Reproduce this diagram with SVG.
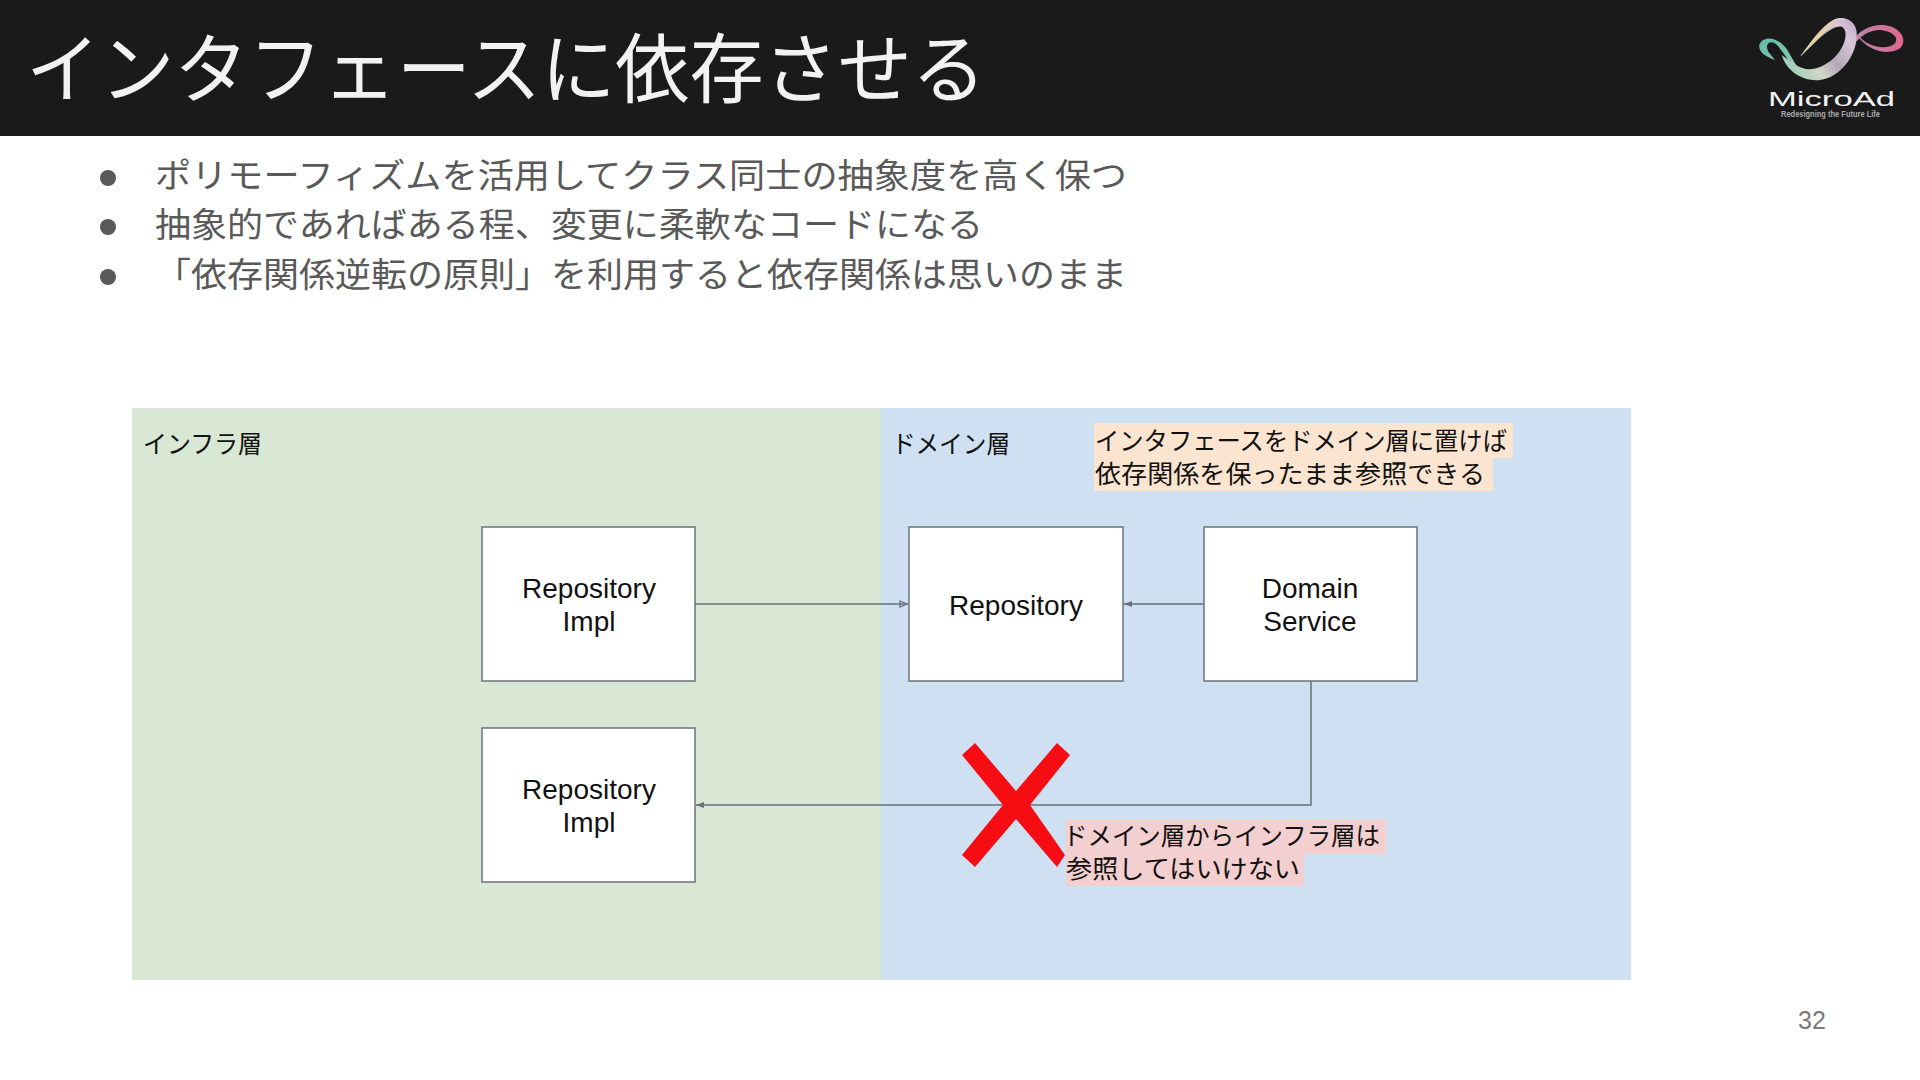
<svg xmlns="http://www.w3.org/2000/svg" width="1920" height="1080" viewBox="0 0 1920 1080">
<style>
.jp{font-family:"Noto Sans CJK JP","Liberation Sans",sans-serif}
.lat{font-family:"Liberation Sans",Arial,sans-serif}
.box{fill:#fff;stroke:#6b7478;stroke-width:1.5}
.bl{font-size:28px;text-anchor:middle;fill:#111}
.lb{font-size:25px;fill:#111}
.bul{font-size:34px;fill:#595959}
.con{fill:none;stroke:#66717a;stroke-width:1.5}
</style>
<defs>
<marker id="open" markerUnits="userSpaceOnUse" markerWidth="10" markerHeight="10" refX="9" refY="4" orient="auto"><path d="M1,1 L8,4 L1,7Z" fill="none" stroke="#66717a" stroke-width="1.2"/></marker>
<marker id="solid" markerUnits="userSpaceOnUse" markerWidth="10" markerHeight="10" refX="9" refY="4" orient="auto"><path d="M1,1 L9,4 L1,7Z" fill="#66717a"/></marker>
<linearGradient id="teal" x1="0" y1="0" x2="1" y2="1"><stop offset="0" stop-color="#5fbfa8"/><stop offset=".6" stop-color="#7fc4ad"/><stop offset="1" stop-color="#b9d3c0"/></linearGradient>
<linearGradient id="band" gradientUnits="userSpaceOnUse" x1="245" y1="230" x2="470" y2="60"><stop offset="0" stop-color="#8fc9b4"/><stop offset=".35" stop-color="#cfd6c6"/><stop offset=".55" stop-color="#b5a7bb"/><stop offset=".8" stop-color="#d8c6d8"/><stop offset="1" stop-color="#bfa8c8"/></linearGradient>
<linearGradient id="stripe" gradientUnits="userSpaceOnUse" x1="300" y1="170" x2="420" y2="55"><stop offset="0" stop-color="#c9d7a8"/><stop offset=".5" stop-color="#ecd39c"/><stop offset="1" stop-color="#d5c3d8"/></linearGradient>
<linearGradient id="pink" x1="0" y1="0" x2="1" y2="0"><stop offset="0" stop-color="#b58aa8"/><stop offset="1" stop-color="#e0658f"/></linearGradient>
</defs>
<rect width="1920" height="1080" fill="#fff"/>
<g id="header">
<rect width="1920" height="136" fill="#1a1a1a"/>
<text class="jp" x="26" y="97" font-size="76" fill="#f2f2f2" textLength="960" lengthAdjust="spacingAndGlyphs">インタフェースに依存させる</text>
</g>
<g id="logo">
<g transform="translate(1700,0) scale(0.3333)">
<path d="M455,125 C480,85 530,65 575,80 C610,95 620,125 600,145 C570,165 510,160 470,105 L480,112 C510,145 565,150 585,130 C600,110 570,90 535,90 C505,92 480,110 460,135Z" fill="url(#pink)"/>
<path d="M178,135 C190,105 235,110 262,150 L300,215 C270,200 250,150 225,130 C205,120 195,135 205,155 L225,180 C195,170 175,155 178,135Z" fill="url(#teal)"/>
<path d="M245,165 C260,215 310,245 360,240 C420,232 475,165 470,95 C465,60 430,45 400,60 C365,78 330,130 300,170 C340,135 390,75 425,80 C445,90 440,130 410,165 C385,195 340,215 310,205 C280,195 260,175 245,165Z" fill="url(#band)"/>
<path d="M300,170 C330,130 365,78 400,60 C412,54 425,52 436,56 C400,66 345,125 300,170Z" fill="url(#stripe)"/>
</g>
<text class="lat" x="1768" y="106" font-size="20" fill="#f2f2f2" textLength="127" lengthAdjust="spacingAndGlyphs">MicroAd</text>
<text class="lat" x="1781" y="117" font-size="8.5" font-weight="bold" fill="#aaa" textLength="99" lengthAdjust="spacingAndGlyphs">Redesigning the Future Life</text>
</g>
<g id="bullets">
<circle cx="108" cy="178" r="8" fill="#595959"/>
<circle cx="108" cy="227" r="8" fill="#595959"/>
<circle cx="108" cy="277" r="8" fill="#595959"/>
<text class="jp bul" x="155" y="188" textLength="972" lengthAdjust="spacingAndGlyphs">ポリモーフィズムを活用してクラス同士の抽象度を高く保つ</text>
<text class="jp bul" x="155" y="237" textLength="828" lengthAdjust="spacingAndGlyphs">抽象的であればある程、変更に柔軟なコードになる</text>
<text class="jp bul" x="155" y="287" textLength="972" lengthAdjust="spacingAndGlyphs">「依存関係逆転の原則」を利用すると依存関係は思いのまま</text>
</g>
<g id="layers">
<rect id="infra-layer" x="132" y="408" width="749" height="572" fill="#d9e8d4"/>
<rect id="domain-layer" x="881" y="408" width="750" height="572" fill="#cfe0f2"/>
<text class="jp lb" x="143" y="453" textLength="119" lengthAdjust="spacingAndGlyphs">インフラ層</text>
<text class="jp lb" x="892" y="453" textLength="118" lengthAdjust="spacingAndGlyphs">ドメイン層</text>
</g>
<g id="notes">
<rect x="1094" y="423" width="419" height="35" fill="#fbe5d0"/>
<rect x="1094" y="458" width="399" height="33" fill="#fbe5d0"/>
<text class="jp lb" x="1095" y="450" textLength="412" lengthAdjust="spacingAndGlyphs">インタフェースをドメイン層に置けば</text>
<text class="jp lb" x="1095" y="483" textLength="390" lengthAdjust="spacingAndGlyphs">依存関係を保ったまま参照できる</text>
<rect x="1066" y="819" width="320" height="35" fill="#f4cfcf"/>
<rect x="1066" y="854" width="238" height="32" fill="#f4cfcf"/>
</g>
<g id="connectors">
<path class="con" d="M695,604 H908" marker-end="url(#open)"/>
<path class="con" d="M1204,604 H1124" marker-end="url(#solid)"/>
<path class="con" d="M1311,681 V805 H696" marker-end="url(#solid)"/>
</g>
<g id="repo-impl-1"><rect class="box" x="482" y="527" width="213" height="154"/>
<text class="lat bl" x="589" y="598">Repository</text><text class="lat bl" x="589" y="631">Impl</text></g>
<g id="repo-impl-2"><rect class="box" x="482" y="728" width="213" height="154"/>
<text class="lat bl" x="589" y="799">Repository</text><text class="lat bl" x="589" y="832">Impl</text></g>
<g id="repository"><rect class="box" x="909" y="527" width="214" height="154"/>
<text class="lat bl" x="1016" y="615">Repository</text></g>
<g id="domain-service"><rect class="box" x="1204" y="527" width="213" height="154"/>
<text class="lat bl" x="1310" y="598">Domain</text><text class="lat bl" x="1310" y="631">Service</text></g>
<g id="cross">
<polygon points="975,743 1016,791 1057,743 1070,755 1030,805 1065,855 1057,867 1016,819 975,867 962,855 1003,805 962,755" fill="#f60d13"/>
</g>
<g id="note-text">
<text class="jp lb" x="1063" y="845" textLength="317" lengthAdjust="spacingAndGlyphs">ドメイン層からインフラ層は</text>
<text class="jp lb" x="1066" y="878" textLength="234" lengthAdjust="spacingAndGlyphs">参照してはいけない</text>
</g>
<text id="page" class="lat" x="1812" y="1029" font-size="25" fill="#7a7a7a" text-anchor="middle">32</text>
</svg>
